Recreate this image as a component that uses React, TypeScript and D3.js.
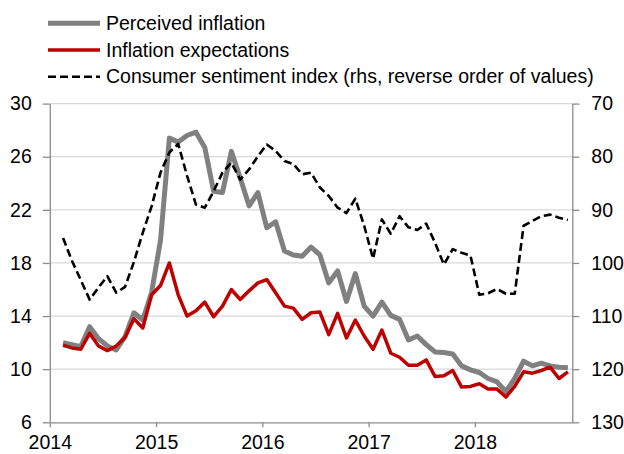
import React, { useEffect, useRef } from 'react';
import * as d3 from 'd3';

// monthly, Feb 2014 .. Nov 2018
const perceived = [
  12.0, 11.85, 11.7, 13.2, 12.3, 11.75, 11.45, 12.45, 14.25, 13.7, 15.8,
  19.7, 27.4, 27.1, 27.6, 27.85, 26.7, 23.4, 23.3, 26.4, 24.4, 22.3, 23.3,
  20.65, 21.1, 18.9, 18.6, 18.5, 19.2, 18.6, 16.5, 17.4, 15.1, 17.2, 14.75,
  14.0, 15.05, 14.05, 13.75, 12.2, 12.5, 11.85, 11.3, 11.25, 11.15, 10.25, 9.95,
  9.75, 9.3, 9.05, 8.3, 9.3, 10.6, 10.25, 10.45, 10.25, 10.15, 10.1,
];
const expectations = [
  11.8, 11.6, 11.5, 12.7, 11.75, 11.4, 11.75, 12.4, 13.8, 13.1, 15.6,
  16.3, 18.0, 15.6, 14.0, 14.4, 15.05, 13.95, 14.75, 16.0, 15.25, 15.9, 16.5,
  16.75, 15.75, 14.75, 14.6, 13.75, 14.25, 14.3, 12.6, 14.2, 12.35, 13.7, 12.5,
  11.5, 12.95, 11.2, 10.9, 10.3, 10.3, 10.7, 9.45, 9.5, 9.9, 8.65, 8.7,
  8.9, 8.5, 8.5, 7.9, 8.7, 9.8, 9.7, 9.9, 10.15, 9.3, 9.8,
];
const sentiment = [
  95.3, 99.6, 103.2, 106.9, 104.6, 102.5, 105.6, 104.5, 99.8, 94.3, 89.3,
  83, 79.2, 77.6, 83.6, 89, 89.6, 86.5, 83, 81.1, 84.3, 82.4, 79.9,
  77.7, 78.9, 80.8, 81.4, 83.3, 83, 85.8, 87.4, 89.6, 90.6, 87.9, 93,
  99.2, 91.8, 94.5, 91.2, 93.3, 93.8, 92.6, 96.2, 100.3, 97.4, 98.1, 98.6,
  106, 105.7, 104.9, 105.8, 105.8, 93, 92.1, 91.2, 90.9, 91.5, 91.9,
];
const yearLabels = ['2014', '2015', '2016', '2017', '2018'];
const leftTicks = [6, 10, 14, 18, 22, 26, 30];
const rightTicks = [70, 80, 90, 100, 110, 120, 130];
const legendLabels = [
  'Perceived inflation',
  'Inflation expectations',
  'Consumer sentiment index (rhs, reverse order of values)',
];

const FONT = 'Liberation Sans, Arial, sans-serif';
const FS = 19.5;

const Chart = () => {
  const ref = useRef<SVGSVGElement>(null);
  const dims = { width: 624, height: 454, left: 49.8, right: 572.3, top: 103.6, bottom: 422.3 };

  useEffect(() => {
    document.body.style.margin = '0';
    const svg = d3.select(ref.current);
    svg.selectAll('*').remove();

    // month index scale: 0 = Jan 2014, 59 = Dec 2018
    const x = d3.scaleLinear().domain([0, 59]).range([dims.left, dims.right]);
    const yL = d3.scaleLinear().domain([6, 30]).range([dims.bottom, dims.top]);
    const yR = d3.scaleLinear().domain([70, 130]).range([dims.top, dims.bottom]);
    const px = (i: number) => x(i + 1.5); // first value is Feb 2014, mid-month

    // gridlines
    svg.append('g')
      .selectAll('line')
      .data(leftTicks.slice(1))
      .join('line')
      .attr('x1', dims.left).attr('x2', dims.right)
      .attr('y1', d => yL(d)).attr('y2', d => yL(d))
      .attr('stroke', '#d9d9d9').attr('stroke-width', 1.3);

    // left axis
    const gl = svg.append('g')
      .attr('transform', `translate(${dims.left},0)`)
      .call(d3.axisLeft(yL).tickValues(leftTicks).tickSize(7).tickPadding(11).tickSizeOuter(0));
    // right axis
    const gr = svg.append('g')
      .attr('transform', `translate(${dims.right},0)`)
      .call(d3.axisRight(yR).tickValues(rightTicks).tickSize(7).tickPadding(12).tickSizeOuter(0));
    // bottom axis
    const gb = svg.append('g')
      .attr('transform', `translate(0,${dims.bottom})`)
      .call(d3.axisBottom(x).tickValues([0, 12, 24, 36, 48])
        .tickFormat((_, i) => yearLabels[i]).tickSize(5).tickPadding(8).tickSizeOuter(0));

    [gl, gr, gb].forEach(g => {
      g.select('.domain').attr('stroke', '#8c8c8c').attr('stroke-width', 1.3);
      g.selectAll('.tick line').attr('stroke', '#8c8c8c').attr('stroke-width', 1.3);
      g.selectAll('.tick text')
        .attr('font-family', FONT).attr('font-size', FS).attr('fill', '#000');
    });

    const lineL = d3.line<number>().x((_, i) => px(i)).y(d => yL(d));
    const lineR = d3.line<number>().x((_, i) => px(i)).y(d => yR(d));

    svg.append('path').datum(perceived)
      .attr('d', lineL).attr('fill', 'none')
      .attr('stroke', '#808080').attr('stroke-width', 5).attr('stroke-linejoin', 'round');

    svg.append('path').datum(expectations)
      .attr('d', lineL).attr('fill', 'none')
      .attr('stroke', '#c00000').attr('stroke-width', 3.5).attr('stroke-linejoin', 'round');

    svg.append('path').datum(sentiment)
      .attr('d', lineR).attr('fill', 'none')
      .attr('stroke', '#000').attr('stroke-width', 2.6)
      .attr('stroke-dasharray', '8,4').attr('stroke-linejoin', 'round');

    // legend
    const legend = svg.append('g');
    const styles = [
      { stroke: '#808080', w: 5, dash: null },
      { stroke: '#c00000', w: 3.5, dash: null },
      { stroke: '#000', w: 2.6, dash: '8,4' },
    ];
    legendLabels.forEach((label, i) => {
      const cy = 23.3 + i * 26.7;
      legend.append('line')
        .attr('x1', 48).attr('x2', 100).attr('y1', cy).attr('y2', cy)
        .attr('stroke', styles[i].stroke).attr('stroke-width', styles[i].w)
        .attr('stroke-dasharray', styles[i].dash);
      legend.append('text')
        .attr('x', 106).attr('y', cy + 6.5)
        .attr('font-family', FONT).attr('font-size', FS)
        .text(label);
    });
  }, []);

  return <svg ref={ref} width={dims.width} height={dims.height} style={{ display: 'block' }} />;
};

export default function App() {
  return <Chart />;
}
